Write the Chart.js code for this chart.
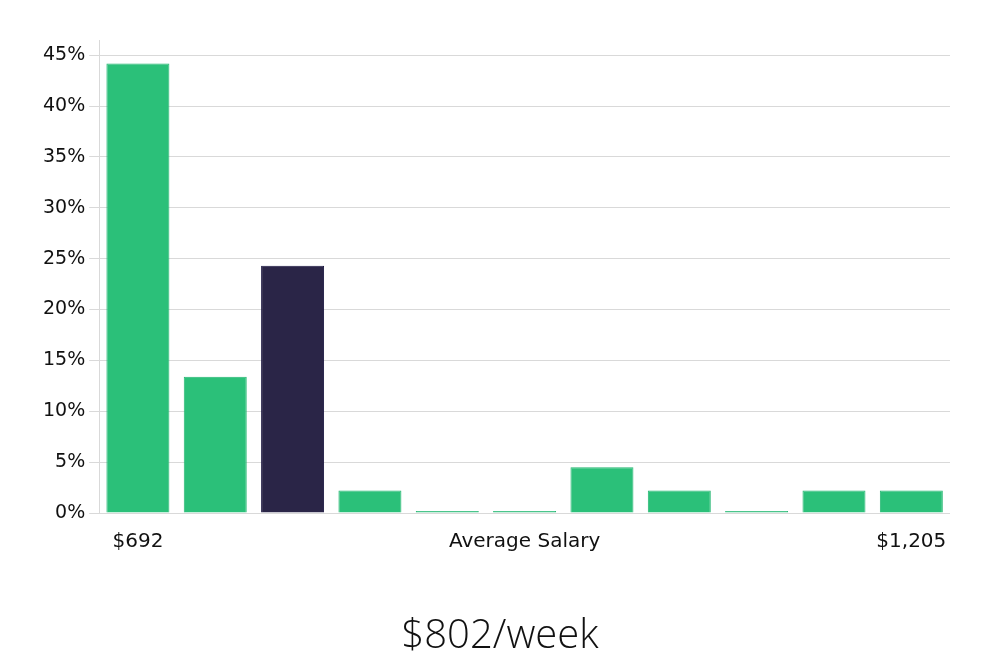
<!DOCTYPE html>
<html>
<head>
<meta charset="utf-8">
<script src="https://cdn.jsdelivr.net/npm/chart.js@4/dist/chart.umd.min.js"></script>
<style>
html,body{margin:0;padding:0;background:#fff;}
canvas{display:block;}
</style>
</head>
<body>
<canvas id="c" width="1000" height="660"></canvas>
<script>
const categories = ["$692","","","","","Average Salary","","","","","$1,205"];
const shares = [44.2, 13.4, 24.3, 2.2, 0.2, 0.2, 4.5, 2.2, 0.2, 2.2, 2.2];
const highlightIndex = [2];
const yTicks = [0,5,10,15,20,25,30,35,40,45];
const titleText = "$802/week";

const green = "#2bc079", greenBorder = "#22b670";
const dark = "#2a2547", darkBorder = "#1b1640";

const bottomTitle = {
  id: "bottomTitle",
  afterDraw(chart) {
    const ctx = chart.ctx;
    ctx.save();
    ctx.fillStyle = "#111";
    ctx.font = "300 40px 'Open Sans'";
    ctx.textAlign = "center";
    ctx.textBaseline = "alphabetic";
    ctx.fillText(titleText, chart.width / 2, 648);
    ctx.restore();
  }
};

new Chart(document.getElementById("c"), {
  type: "bar",
  data: {
    labels: categories,
    datasets: [{
      data: shares,
      backgroundColor: shares.map((v,i)=> highlightIndex.includes(i) ? dark : green),
      borderColor: shares.map((v,i)=> highlightIndex.includes(i) ? darkBorder : greenBorder),
      borderWidth: 1,
      categoryPercentage: 0.9,
      barPercentage: 0.905
    }]
  },
  plugins: [bottomTitle],
  options: {
    responsive: false,
    animation: false,
    layout: { padding: { left: 39, right: 50, top: 40, bottom: 97 } },
    plugins: {
      legend: { display: false },
      tooltip: { enabled: false },
      title: { display: false }
    },
    scales: {
      x: {
        grid: { display: false },
        border: { display: false },
        ticks: {
          autoSkip: false, maxRotation: 0, minRotation: 0,
          color: "#111", padding: 9,
          font: { family: "'DejaVu Sans'", size: 20 }
        }
      },
      y: {
        min: 0, max: 46.5,
        afterBuildTicks: (s) => { s.ticks = yTicks.map(v => ({ value: v })); },
        grid: { color: "#d9d9d9", tickLength: 10, lineWidth: 1 },
        border: { display: true, color: "#d9d9d9" },
        ticks: {
          color: "#111", padding: 4,
          font: { family: "'DejaVu Sans'", size: 19 },
          callback: (v) => v + "%"
        }
      }
    }
  }
});
</script>
</body>
</html>
